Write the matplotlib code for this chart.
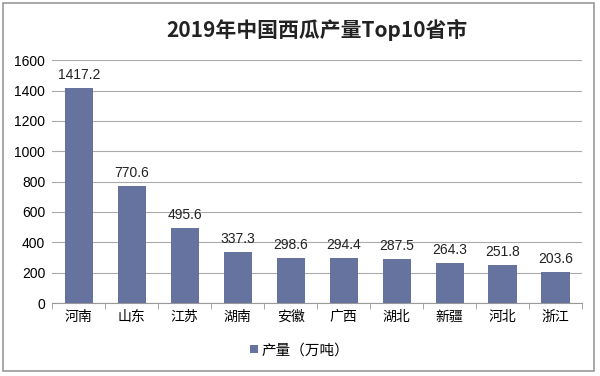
import matplotlib.pyplot as plt
from matplotlib.patches import Rectangle

plt.rcParams["font.family"] = ["Noto Sans CJK SC", "DejaVu Sans"]

# Data
provinces = ["河南", "山东", "江苏", "湖南", "安徽", "广西", "湖北", "新疆", "河北", "浙江"]
output = [1417.2, 770.6, 495.6, 337.3, 298.6, 294.4, 287.5, 264.3, 251.8, 203.6]
y_ticks = [0, 200, 400, 600, 800, 1000, 1200, 1400, 1600]

bar_color = "#67739f"
num_font = ["Liberation Sans", "DejaVu Sans"]

fig = plt.figure(figsize=(6, 3.76), dpi=100)
ax = fig.add_axes([0.087, 0.194, 0.883, 0.646])

x = range(len(provinces))
ax.bar(x, output, width=0.53, color=bar_color, label="产量（万吨）", zorder=3)

for xi, v in zip(x, output):
    ax.text(xi, v + 40, f"{v:.1f}", ha="center", va="bottom", fontsize=10,
            family=num_font, color="#222222")

ax.set_xlim(-0.5, len(provinces) - 0.5)
ax.set_ylim(0, 1600)
ax.set_yticks(y_ticks)
ax.set_yticklabels([str(t) for t in y_ticks], family=num_font, fontsize=10)
ax.set_xticks(list(x))
ax.set_xticklabels(provinces, fontsize=10)
ax.tick_params(axis="x", length=0, pad=5)
ax.tick_params(axis="y", length=0, pad=5)

# category boundary ticks on x axis
ax.set_xticks([i - 0.5 for i in range(len(provinces) + 1)], minor=True)
ax.tick_params(axis="x", which="minor", length=4, color="#999999")

ax.grid(axis="y", color="#aaaaaa", linewidth=0.8, zorder=0)
for side in ["top", "right", "left"]:
    ax.spines[side].set_visible(False)
ax.spines["bottom"].set_color("#999999")

ax.set_title("2019年中国西瓜产量Top10省市", fontsize=15, fontweight="bold", pad=17,
             color="#222222")

fig.legend(loc="center", bbox_to_anchor=(0.5, 0.068), frameon=False, fontsize=10.5,
           handlelength=0.5, handleheight=0.5, handletextpad=0.3)

# outer frame
fig.patches.append(Rectangle((0.005, 0.013), 0.985, 0.978, transform=fig.transFigure,
                             fill=False, edgecolor="#999999", linewidth=1.2))

fig.savefig("out.png", dpi=100)
